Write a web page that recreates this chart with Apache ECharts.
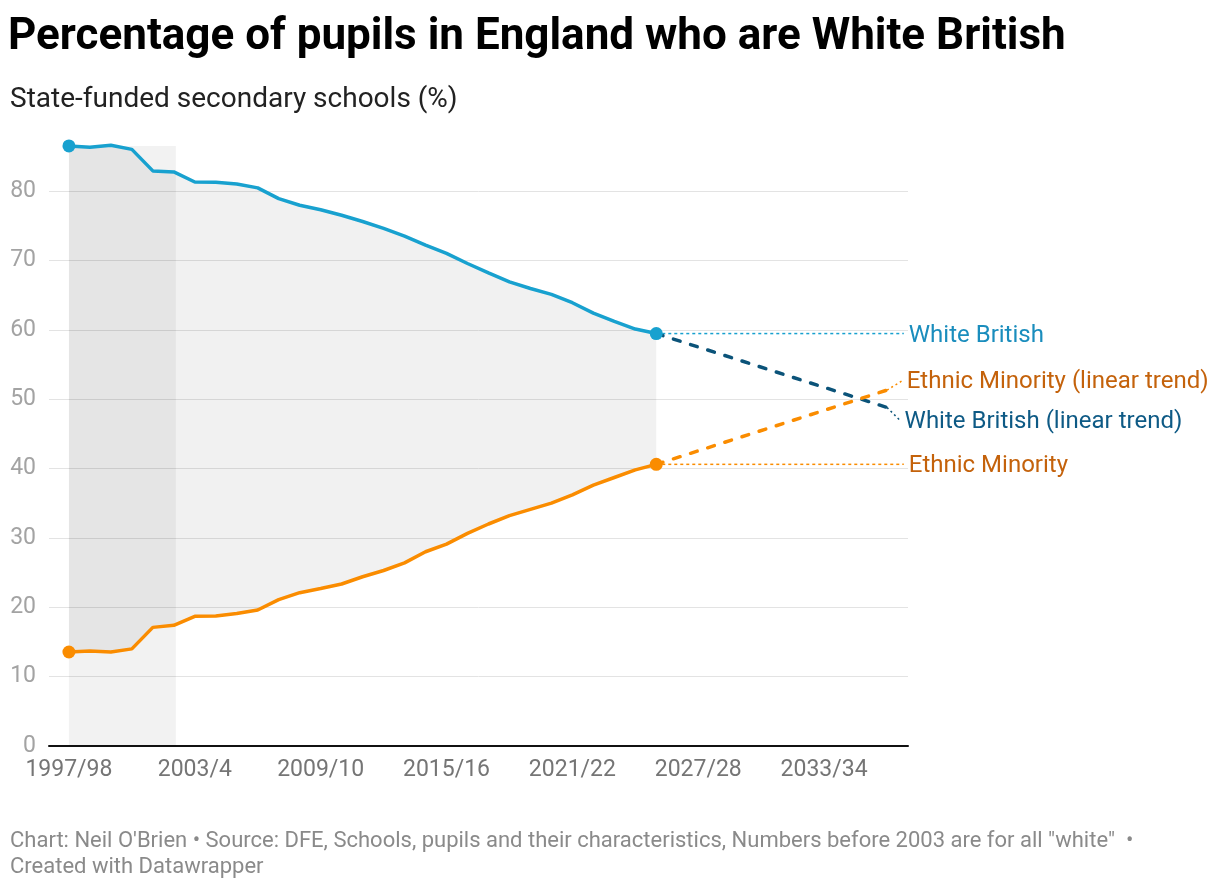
<!DOCTYPE html>
<html>
<head>
<meta charset="utf-8">
<script src="https://cdn.jsdelivr.net/npm/echarts@6/dist/echarts.min.js"></script>
<style>
  html, body { margin: 0; padding: 0; background: #fff; }
  #chart { width: 1220px; height: 888px; }
</style>
</head>
<body>
<div id="chart"></div>
<script>
// school years, first calendar year of each (1997 = 1997/98)
const years = [1997, 1998, 1999, 2000, 2001, 2002, 2003, 2004, 2005, 2006,
  2007, 2008, 2009, 2010, 2011, 2012, 2013, 2014, 2015, 2016,
  2017, 2018, 2019, 2020, 2021, 2022, 2023, 2024, 2025]

const whiteBritish = [86.5, 86.3, 86.6, 86.0, 82.9, 82.75, 81.3, 81.25, 81.0, 80.45,
  78.9, 77.95, 77.3, 76.5, 75.6, 74.6, 73.5, 72.2, 71.0, 69.55,
  68.2, 66.9, 65.95, 65.1, 63.9, 62.4, 61.2, 60.1, 59.45]

const ethnicMinority = [13.55, 13.7, 13.55, 14.0, 17.1, 17.4, 18.7, 18.75, 19.1, 19.6,
  21.1, 22.1, 22.7, 23.35, 24.4, 25.3, 26.4, 28.0, 29.1, 30.65,
  32.0, 33.2, 34.1, 35.0, 36.2, 37.6, 38.7, 39.8, 40.6]

// linear trends, start and end
const trendYears = [2025, 2036]
const whiteBritishTrend = [59.45, 48.8]
const ethnicMinorityTrend = [40.6, 51.3]

// "all white" period shading
const bandYears = [1997, 2002.1]

const tickYears = [1997, 2003, 2009, 2015, 2021, 2027, 2033]
const tickLabels = ['1997/98', '2003/4', '2009/10', '2015/16', '2021/22', '2027/28', '2033/34']

const FONT = 'Roboto'
const BLUE = '#18a1cf'
const ORANGE = '#fa8c00'
const DARKBLUE = '#0b5379'

const pairs = (xs, ys) => xs.map((x, i) => [x, ys[i]])
const last = years.length - 1
const endDot = (v, p) => (p.dataIndex === 0 || p.dataIndex === last) ? 13 : 0

const chart = echarts.init(document.getElementById('chart'))

const option = {
  animation: false,
  textStyle: {fontFamily: FONT},
  title: [
    {
      text: 'Percentage of pupils in England who are White British',
      left: 8, top: 16, padding: 0,
      textStyle: {fontFamily: FONT, fontSize: 44, fontWeight: 'bold', color: '#000'}
    },
    {
      text: 'State-funded secondary schools (%)',
      left: 10, top: 86, padding: 0,
      textStyle: {fontFamily: FONT, fontSize: 28, fontWeight: 'normal', color: '#222'}
    },
    {
      text: 'Chart: Neil O\'Brien • Source: DFE, Schools, pupils and their characteristics, Numbers before 2003 are for all "white"  •\nCreated with Datawrapper',
      left: 10, top: 828, padding: 0,
      textStyle: {fontFamily: FONT, fontSize: 22, fontWeight: 'normal', color: '#8a8a8a', lineHeight: 26}
    }
  ],
  grid: {left: 49, right: 312, top: 191, bottom: 142},
  xAxis: {
    type: 'value',
    min: 1996.05,
    max: 2037,
    splitLine: {show: false},
    axisTick: {show: false},
    axisLine: {onZero: true, lineStyle: {color: '#111', width: 2}},
    axisLabel: {
      customValues: tickYears,
      formatter: v => tickLabels[tickYears.indexOf(v)] || '',
      color: '#757575', fontSize: 23, margin: 13, fontFamily: FONT
    }
  },
  yAxis: {
    type: 'value',
    min: 0, max: 80, interval: 10,
    axisLine: {show: false},
    axisTick: {show: false},
    splitLine: {lineStyle: {color: '#e3e3e3', width: 1}},
    axisLabel: {color: '#a3a3a3', fontSize: 23, margin: 13, fontFamily: FONT}
  },
  series: [
    // gap between the two lines, filled
    {
      type: 'custom',
      z: 1,
      clip: false,
      silent: true,
      data: [[years[0], whiteBritish[0]]],
      renderItem: (params, api) => {
        const top = years.map((y, i) => api.coord([y, whiteBritish[i]]))
        const bottom = years.map((y, i) => api.coord([y, ethnicMinority[i]])).reverse()
        return {
          type: 'polygon',
          shape: {points: top.concat(bottom)},
          style: {fill: 'rgba(0,0,0,0.055)'}
        }
      }
    },
    {
      type: 'custom',
      z: 2,
      clip: false,
      silent: true,
      data: [[bandYears[0], bandYears[1], whiteBritish[0]]],
      encode: {x: [0, 1], y: 2},
      renderItem: (params, api) => {
        const p0 = api.coord([api.value(0), api.value(2)])
        const p1 = api.coord([api.value(1), 0])
        return {
          type: 'rect',
          shape: {x: p0[0], y: p0[1], width: p1[0] - p0[0], height: p1[1] - p0[1]},
          style: {fill: 'rgba(0,0,0,0.05)'}
        }
      }
    },
    // label connectors
    {
      type: 'line', z: 3, clip: false, symbol: 'none',
      lineStyle: {color: BLUE, width: 1.5, type: [3, 3]},
      data: [[years[last], whiteBritish[last]], [2036.8, whiteBritish[last]]],
      endLabel: {show: true, formatter: 'White British', color: '#1a8dbd', fontSize: 24, distance: 5, offset: [0, 2], fontFamily: FONT}
    },
    {
      type: 'line', z: 3, clip: false, symbol: 'none',
      lineStyle: {color: ORANGE, width: 1.5, type: [3, 3]},
      data: [[years[last], ethnicMinority[last]], [2036.8, ethnicMinority[last]]],
      endLabel: {show: true, formatter: 'Ethnic Minority', color: '#c4620b', fontSize: 24, distance: 5, offset: [0, 2], fontFamily: FONT}
    },
    {
      type: 'line', z: 3, clip: false, symbol: 'none',
      lineStyle: {color: ORANGE, width: 1.5, type: [2, 3]},
      data: [[trendYears[1], ethnicMinorityTrend[1]], [2036.7, 52.6]],
      endLabel: {show: true, formatter: 'Ethnic Minority (linear trend)', color: '#c4620b', fontSize: 24, distance: 5, offset: [0, 1], fontFamily: FONT}
    },
    {
      type: 'line', z: 3, clip: false, symbol: 'none',
      lineStyle: {color: DARKBLUE, width: 1.5, type: [2, 3]},
      data: [[trendYears[1], whiteBritishTrend[1]], [2036.6, 47.0]],
      endLabel: {show: true, formatter: 'White British (linear trend)', color: '#0e5a85', fontSize: 24, distance: 5, offset: [0, 2], fontFamily: FONT}
    },
    // trends
    {
      type: 'line', z: 4, clip: false, symbol: 'none',
      lineStyle: {color: DARKBLUE, width: 3.5, type: [7, 11], cap: 'round'},
      data: pairs(trendYears, whiteBritishTrend)
    },
    {
      type: 'line', z: 4, clip: false, symbol: 'none',
      lineStyle: {color: ORANGE, width: 3.5, type: [7, 11], cap: 'round'},
      data: pairs(trendYears, ethnicMinorityTrend)
    },
    // main lines
    {
      name: 'White British',
      type: 'line', z: 5, clip: false,
      symbol: 'circle', symbolSize: endDot, showAllSymbol: true,
      itemStyle: {color: BLUE},
      lineStyle: {color: BLUE, width: 3.5},
      data: pairs(years, whiteBritish)
    },
    {
      name: 'Ethnic Minority',
      type: 'line', z: 5, clip: false,
      symbol: 'circle', symbolSize: endDot, showAllSymbol: true,
      itemStyle: {color: ORANGE},
      lineStyle: {color: ORANGE, width: 3.5},
      data: pairs(years, ethnicMinority)
    }
  ]
}

chart.setOption(option)
window.addEventListener('resize', () => chart.resize())
</script>
</body>
</html>
